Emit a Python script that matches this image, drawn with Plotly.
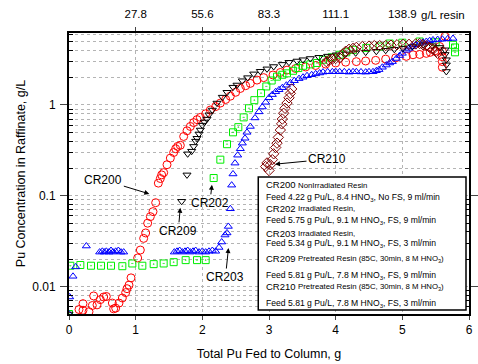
import plotly.graph_objects as go
import math

# ---------------- data ----------------
cr200_x = [0.15, 0.21, 0.21, 0.30, 0.35, 0.37, 0.42, 0.47, 0.52, 0.56, 0.65, 0.67, 0.70, 0.75, 0.80,
           0.85, 0.87, 0.90, 0.93, 1.03, 1.07, 1.12, 1.15, 1.18, 1.22, 1.26, 1.30, 1.34, 1.37, 1.39,
           1.42, 1.47, 1.52, 1.57, 1.60, 1.63, 1.67, 1.72, 1.77, 1.82, 1.87, 1.92, 1.97, 2.05, 2.12,
           2.20, 2.27, 2.35, 2.42, 2.50, 2.57, 2.65, 2.72, 2.82, 2.92, 3.06, 3.17, 3.27, 3.40, 3.55,
           3.70, 3.85, 4.00, 4.15, 4.31, 4.45, 4.60, 4.75, 4.90, 5.06, 5.16, 5.26, 5.36, 5.42, 5.49,
           5.56, 5.64, 5.60, 5.60, 5.60, 5.60]
cr200_y = [0.0056, 0.0065, 0.0055, 0.0053, 0.0062, 0.0079, 0.0063, 0.0072, 0.0077, 0.0078, 0.0066, 0.0057,
           0.0058, 0.0066, 0.0075, 0.0086, 0.0095, 0.0104, 0.0125, 0.0207, 0.0253, 0.034, 0.039, 0.050,
           0.059, 0.067, 0.084, 0.138, 0.155, 0.17, 0.18, 0.22, 0.26, 0.30, 0.33, 0.35, 0.36, 0.45,
           0.52, 0.58, 0.64, 0.69, 0.73, 0.80, 0.88, 0.96, 1.05, 1.15, 1.25, 1.38, 1.52, 1.63, 1.73,
           1.88, 2.0, 2.14, 2.28, 2.42, 2.52, 2.62, 2.72, 2.82, 2.90, 2.96, 3.0, 3.05, 3.1, 3.2, 3.3,
           3.43, 3.57, 3.6, 3.7, 3.8, 3.95, 4.4, 5.7, 3.9, 3.4, 3.0, 2.6]

cr202_x = [0.0, 0.02, 0.17, 0.33, 0.48, 0.63, 0.80, 0.95, 1.10, 1.27, 1.42, 1.57, 1.75, 1.92, 2.05,
           2.17, 2.27, 2.37, 2.46, 2.54, 2.62, 2.70, 2.78, 2.88, 2.96, 3.04, 3.12, 3.20, 3.27, 3.36,
           3.44, 3.51, 3.62, 3.72, 3.81, 3.94, 4.06, 4.16, 4.26, 4.46, 4.66, 4.81, 5.00, 5.26, 5.50,
           5.76, 5.79, 5.79]
cr202_y = [0.005, 0.017, 0.0173, 0.017, 0.017, 0.017, 0.0168, 0.018, 0.017, 0.0177, 0.018, 0.0186,
           0.0196, 0.0196, 0.0196, 0.157, 0.25, 0.37, 0.50, 0.57, 0.73, 0.92, 1.13, 1.35, 1.6, 1.86,
           2.05, 2.15, 2.23, 2.38, 2.55, 2.7, 2.8, 2.9, 3.15, 3.35, 3.57, 3.8, 4.05, 4.25, 4.4, 4.75,
           4.85, 5.0, 4.9, 4.6, 4.3, 3.8]

cr203_x = [0.0, 0.01, 0.06, 0.10, 0.26, 0.46, 0.50, 0.53, 0.56, 0.60, 0.63, 0.66, 0.70, 0.74, 0.78,
           0.82, 1.58, 1.62, 1.66, 1.70, 1.74, 1.78, 1.82, 1.86, 1.90, 1.95, 2.00, 2.05, 2.10, 2.15,
           2.20, 2.25, 2.29, 2.34, 2.37, 2.39, 2.42, 2.44, 2.46, 2.49, 2.53, 2.57, 2.60, 2.64, 2.67,
           2.72, 2.79, 2.85, 2.90, 2.95, 3.00, 3.05, 3.10, 3.15, 3.20, 3.26, 3.32, 3.38, 3.45, 3.51,
           3.57, 3.64, 3.70, 3.76, 3.81, 3.88, 3.95, 4.00, 4.06, 4.13, 4.20, 4.26, 4.31, 4.38, 4.45,
           4.50, 4.56, 4.61, 4.65, 4.70, 4.76, 4.81, 4.85, 4.91, 4.96, 5.00, 5.06, 5.10, 5.15, 5.20,
           5.26, 5.31, 5.36, 5.41, 5.46, 5.53, 5.60, 5.68, 5.76]
cr203_y = [0.005, 0.0077, 0.013, 0.0165, 0.028, 0.024, 0.0245, 0.024, 0.0245, 0.024, 0.025, 0.024,
           0.0245, 0.025, 0.024, 0.024, 0.024, 0.0245, 0.025, 0.024, 0.0245, 0.025, 0.024, 0.0245,
           0.025, 0.024, 0.0245, 0.024, 0.0245, 0.025, 0.0245, 0.027, 0.031, 0.037, 0.039, 0.046,
           0.072, 0.131, 0.174, 0.229, 0.28, 0.33, 0.38, 0.43, 0.50, 0.58, 0.72, 0.84, 0.95, 1.07,
           1.2, 1.3, 1.4, 1.47, 1.55, 1.65, 1.75, 1.85, 1.95, 2.02, 2.1, 2.15, 2.2, 2.25, 2.3, 2.32,
           2.32, 2.33, 2.32, 2.32, 2.3, 2.32, 2.32, 2.31, 2.3, 2.32, 2.32, 2.38, 2.45, 2.6, 2.75,
           2.9, 3.0, 3.25, 3.5, 3.7, 4.0, 4.2, 4.4, 4.6, 4.76, 4.9, 5.0, 5.1, 5.2, 5.25, 5.3, 5.35,
           5.4]

cr209_x = [0.0, 1.69, 1.77, 1.78, 1.84, 1.87, 1.90, 1.92, 1.95, 1.97, 2.00, 2.03, 2.07, 2.10, 2.15,
           2.22, 2.30, 2.37, 2.46, 2.52, 2.60, 2.68, 2.77, 2.87, 2.97, 3.07, 3.20, 3.30, 3.42, 3.51,
           3.62, 3.75, 3.88, 4.01, 4.15, 4.30, 4.45, 4.61, 4.75, 4.88, 5.01, 5.15, 5.31, 5.45, 5.56,
           5.64, 5.64, 5.66, 5.66, 5.66]
cr209_y = [0.005, 0.087, 0.17, 0.29, 0.31, 0.35, 0.40, 0.43, 0.48, 0.53, 0.60, 0.65, 0.70, 0.78,
           0.88, 1.05, 1.22, 1.38, 1.57, 1.66, 1.85, 2.0, 2.2, 2.35, 2.5, 2.65, 2.8, 2.95, 3.05,
           3.15, 3.25, 3.35, 3.45, 3.57, 3.65, 3.75, 3.82, 3.9, 4.0, 4.1, 4.2, 4.4, 4.6, 4.5, 4.3,
           4.05, 3.6, 3.15, 2.77, 2.34]

cr210_x = [2.95, 2.97, 3.00, 3.02, 3.05, 3.07, 3.10, 3.12, 3.14, 3.17, 3.19, 3.20, 3.22, 3.24, 3.27,
           3.30, 3.32, 3.34, 3.86, 3.90, 3.95, 4.00, 4.06, 4.10, 4.15, 4.20, 4.26, 4.31, 4.40, 4.50,
           4.58, 4.66, 4.75, 4.83, 4.92, 5.01, 5.10, 5.20, 5.26, 5.31, 5.36, 5.41, 5.46, 5.51, 5.53]
cr210_y = [0.21, 0.23, 0.19, 0.22, 0.25, 0.29, 0.34, 0.38, 0.44, 0.53, 0.62, 0.70, 0.81, 0.92, 1.05,
           1.2, 1.34, 1.5, 3.0, 3.1, 3.2, 3.25, 3.3, 3.6, 3.9, 4.1, 4.2, 4.3, 4.4, 4.45, 4.5, 4.5,
           4.5, 4.55, 4.6, 4.65, 4.65, 4.7, 4.75, 4.6, 4.5, 4.3, 4.1, 3.9, 3.7]

top_tick_vals = [1, 2, 3, 4, 5]
top_tick_text = ["27.8", "55.6", "83.3", "111.1", "138.9"]

legend_heads = ["CR200", "", "CR202", "", "CR203", "", "CR209", "", "CR210", ""]
legend_texts = [
    "NonIrradiated Resin",
    "Feed 4.22 g Pu/L, 8.4 HNO<sub>3</sub>, No FS, 9 ml/min",
    "Irradiated Resin,",
    "Feed 5.75 g Pu/L, 9.1 M HNO<sub>3</sub>, FS, 9 ml/min",
    "Irradiated Resin,",
    "Feed 5.34 g Pu/L, 9.1 M HNO<sub>3</sub>, FS, 3 ml/min",
    "Pretreated Resin (85C, 30min, 8 M HNO<sub>3</sub>)",
    "Feed 5.81 g Pu/L, 7.8 M HNO<sub>3</sub>, FS, 9 ml/min",
    "Pretreated Resin (85C, 30min, 8 M HNO<sub>3</sub>)",
    "Feed 5.81 g Pu/L, 7.8 M HNO<sub>3</sub>, FS, 3 ml/min",
]
legend_y_px = [184.7, 197.3, 208.3, 220, 233.3, 243.5, 258.3, 275, 286.7, 303.3]

FONT = "Liberation Sans, Arial, sans-serif"
W, H = 478, 364
ML, MR, MT, MB = 68.5, 9, 33, 50

fig = go.Figure()


def sc(x, y, sym, color, size=7):
    fig.add_trace(go.Scatter(x=x, y=y, mode="markers",
                             marker=dict(symbol=sym, size=size, color=color,
                                         line=dict(width=1, color=color)),
                             showlegend=False, hoverinfo="skip"))


sc(cr200_x, cr200_y, "circle-open", "#ff0000", 8)
sc(cr202_x, cr202_y, "square-open-dot", "#00ee00", 7)
sc(cr203_x, cr203_y, "triangle-up-open", "#0000ff", 7)
sc(cr209_x, cr209_y, "triangle-down-open", "#000000", 7)
sc(cr210_x, cr210_y, "diamond-open", "#800000", 8)

ymin, ymax = 0.005, 6.2
minor_vals = []
for d in [0.001, 0.01, 0.1, 1]:
    for k in range(2, 10):
        v = k * d
        if ymin < v < ymax:
            minor_vals.append(v)

fig.update_layout(
    width=W, height=H, autosize=False,
    margin=dict(l=ML, r=MR, t=MT, b=MB, pad=0),
    paper_bgcolor="white", plot_bgcolor="white",
    font=dict(family=FONT, size=12, color="black"),
    showlegend=False,
    xaxis=dict(range=[0, 6], tickvals=[0, 1, 2, 3, 4, 5, 6], ticks="outside", ticklen=4,
               showline=True, linecolor="black", linewidth=2, mirror=False, automargin=False,
               showgrid=True, gridcolor="#b4b4b4", griddash="dot", gridwidth=1,
               zeroline=False, tickfont=dict(size=12), ticklabelstandoff=0,
               title=dict(text="Total Pu Fed to Column, g", font=dict(size=12.5), standoff=13)),
    xaxis2=dict(range=[0, 6], overlaying="x", side="top", anchor="y", automargin=False,
                tickvals=top_tick_vals, ticktext=top_tick_text, ticks="outside", ticklen=4,
                showline=True, linecolor="black", linewidth=2, showgrid=False, zeroline=False,
                tickfont=dict(size=11.5), ticklabelstandoff=4),
    yaxis=dict(type="log", range=[math.log10(ymin), math.log10(ymax)],
               tickvals=[0.01, 0.1, 1], ticktext=["0.01", "0.1", "1"], automargin=False,
               ticks="outside", ticklen=7, showline=True, linecolor="black", linewidth=2,
               mirror="ticks", showgrid=True, gridcolor="#b4b4b4", griddash="dot", gridwidth=1,
               zeroline=False, tickfont=dict(size=12), ticklabelstandoff=2,
               minor=dict(tickvals=minor_vals, ticks="inside", ticklen=4, tickcolor="black",
                          showgrid=True, gridcolor="#b4b4b4", griddash="dot", gridwidth=1),
               title=dict(text="Pu Concentration in Raffinate, g/L", font=dict(size=12.5), standoff=4)),
)

# invisible helper so the top axis is drawn
fig.add_trace(go.Scatter(x=[None], y=[None], xaxis="x2", yaxis="y", mode="markers",
                         showlegend=False, hoverinfo="skip"))

pw, ph = W - ML - MR, H - MT - MB


def px2paper(px, py):
    return (px - ML) / pw, 1 - (py - MT) / ph


# top axis unit label
gx, gy = px2paper(443, 15)
fig.add_annotation(text="g/L resin", xref="paper", yref="paper", x=gx, y=gy, xanchor="center",
                   yanchor="middle", showarrow=False, font=dict(size=11.5))

# callout annotations (tips in data coords, text offsets in pixels)
callouts = [
    ("CR200", 1.205, 0.105, -46, -14),
    ("CR209", 1.669, 0.0738, -2, 23),
    ("CR202", 2.144, 0.132, -2, 18),
    ("CR203", 2.392, 0.0266, -3, 29),
    ("CR210", 3.09, 0.223, 52, -5),
]
for t, x, y, ax, ay in callouts:
    fig.add_annotation(text=t, x=x, y=math.log10(y), xref="x", yref="y", ax=ax, ay=ay,
                       showarrow=True, arrowhead=2, arrowsize=1, arrowwidth=1, arrowcolor="black",
                       font=dict(size=12), standoff=0)

# legend box
x0, y0 = px2paper(258, 177)
x1, y1 = px2paper(466, 310)
fig.add_shape(type="rect", xref="paper", yref="paper", x0=x0, y0=y1, x1=x1, y1=y0,
              line=dict(color="black", width=1.5), fillcolor="white", layer="above")
for head, rest, py in zip(legend_heads, legend_texts, legend_y_px):
    if head:
        hx, hy = px2paper(264, py)
        fig.add_annotation(text=head, xref="paper", yref="paper", x=hx, y=hy, xanchor="left",
                           yanchor="middle", showarrow=False, font=dict(size=9.5))
        rx, ry = px2paper(296, py + 0.5)
        fig.add_annotation(text=rest, xref="paper", yref="paper", x=rx, y=ry, xanchor="left",
                           yanchor="middle", showarrow=False, font=dict(size=7.8))
    else:
        rx, ry = px2paper(264, py)
        fig.add_annotation(text=rest, xref="paper", yref="paper", x=rx, y=ry, xanchor="left",
                           yanchor="middle", showarrow=False, font=dict(size=8.6))

fig.write_html("out.html", config={"displayModeBar": False},
               post_script="document.body.style.margin='0';document.body.style.padding='0';")
